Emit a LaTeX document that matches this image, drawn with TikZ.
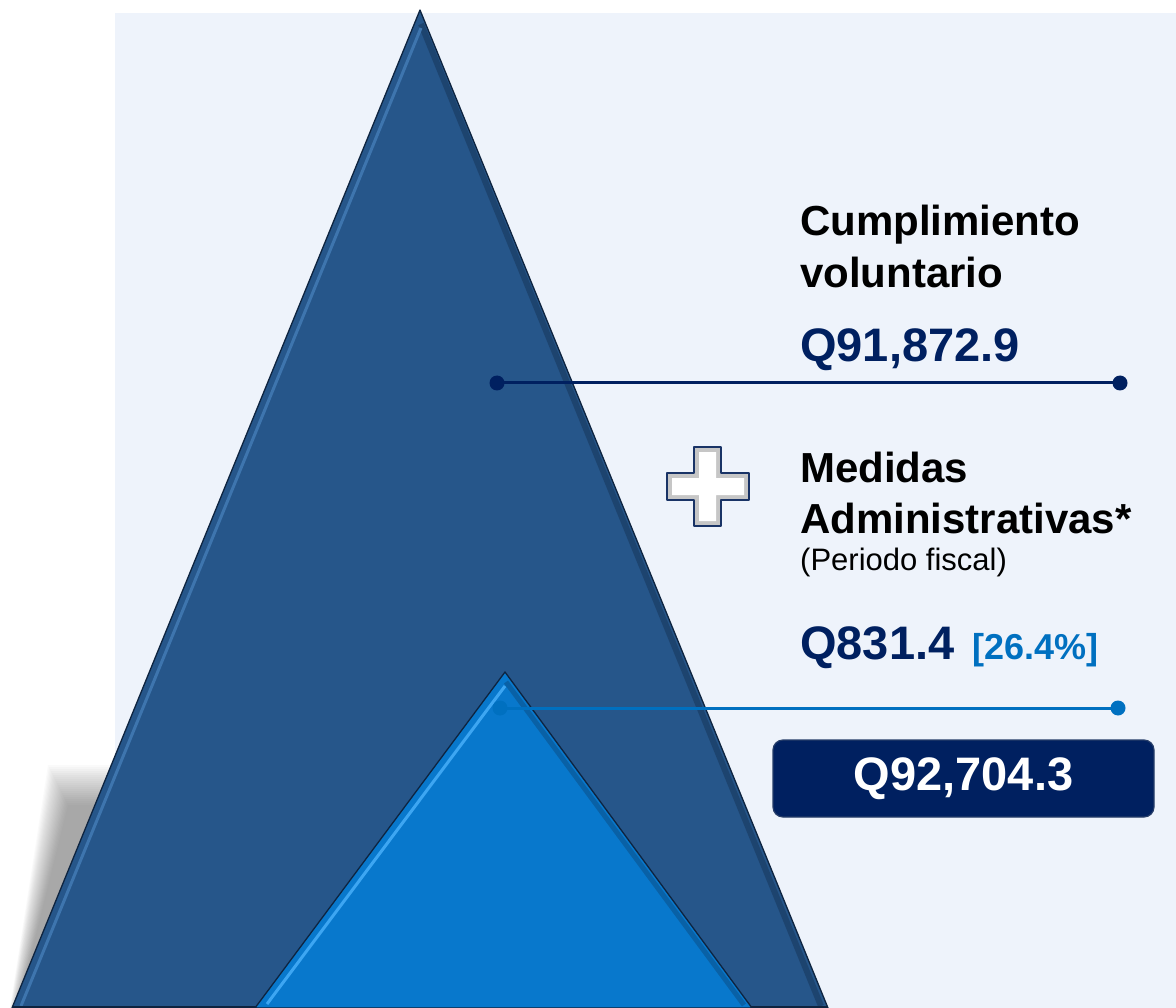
\documentclass[tikz,border=0pt]{standalone}
\usepackage{fontspec}
\setmainfont{Liberation Sans}
\definecolor{bgc}{HTML}{EEF3FB}
\definecolor{bigtri}{HTML}{26568A}
\definecolor{bigedge}{HTML}{0E2440}
\definecolor{bighi}{HTML}{3E75AE}
\definecolor{smalltri}{HTML}{0878CC}
\definecolor{smallhi}{HTML}{3DA6F2}
\definecolor{navy}{HTML}{002060}
\definecolor{midblue}{HTML}{0070C0}
\tikzset{
  lbl/.style={anchor=base west, inner sep=0pt, font=\bfseries\fontsize{42}{50}\selectfont, text=black},
  valtxt/.style={anchor=base west, inner sep=0pt, font=\bfseries\fontsize{47}{56}\selectfont, text=navy},
  dotdark/.style={fill=navy, draw=none},
  dotlight/.style={fill=midblue, draw=none},
  leader/.style={line width=3pt},
}
\begin{document}
\begin{tikzpicture}[x=1pt,y=-1pt]
\useasboundingbox (0,0) rectangle (1176,1008);
\clip (0,0) rectangle (1176,1008);
% background panel
\fill[bgc] (115,13) rectangle (1176,1008);
% soft shadow at left of big triangle
\foreach \d in {0,2,...,40}{
  \fill[black,opacity=0.018] (48+\d*0.5,765+\d) -- (115,765+\d) -- (22,1008) -- (10+\d*0.2,1008) -- cycle;
}
% big triangle
\coordinate (BA) at (420,10);
\coordinate (BL) at (12,1008);
\coordinate (BR) at (828,1008);
\fill[bigtri] (BA) -- (BL) -- (BR) -- cycle;
\draw[bigedge!70!bigtri, line width=6pt, opacity=0.5] (421,24) -- (821,1006);
\draw[bighi, line width=3pt] (421,28) -- (21,1006);
\draw[bigedge, line width=1.3pt, line join=round] (BA) -- (BL) -- (BR) -- cycle;
\draw[bigedge, line width=3pt] (12,1007) -- (828,1007);
% small triangle
\coordinate (SA) at (505,672);
\coordinate (SL) at (255,1008);
\coordinate (SR) at (752,1008);
\fill[smalltri] (SA) -- (SL) -- (SR) -- cycle;
\draw[smallhi, line width=3pt] (505,686) -- (267,1004);
\draw[bigedge!60!smalltri, line width=5pt, opacity=0.45] (506,682) -- (744,1005);
\draw[bigedge, line width=1.3pt, line join=round] (SA) -- (SL) -- (SR) -- cycle;
% leader lines
\coordinate (d1a) at (497,383);
\coordinate (d1b) at (1120,383);
\coordinate (d2a) at (500,708);
\coordinate (d2b) at (1118,708);
\draw[navy, leader] (d1a) -- (d1b);
\fill[dotdark] (d1a) circle (7.5);
\fill[dotdark] (d1b) circle (7.5);
\draw[midblue, leader] (d2a) -- (d2b);
\fill[dotlight] (d2a) circle (7.5);
\fill[dotlight] (d2b) circle (7.5);
% texts
\node[lbl] (t1) at (800,236) {Cumplimiento};
\node[lbl] (t2) at (800,288) {voluntario};
\node[valtxt] (v1) at (800,362) {Q91,872.9};
\node[lbl] (t3) at (800,482) {Medidas};
\node[lbl] (t4) at (800,533) {Administrativas*};
\node[anchor=base west, inner sep=0pt, font=\fontsize{31}{36}\selectfont] (t5) at (800,570) {(Periodo fiscal)};
\node[valtxt] (v2) at (800,659) {Q831.4};
\node[anchor=base west, inner sep=0pt, font=\bfseries\fontsize{36}{42}\selectfont, text=midblue] (v3) at (972,659) {[26.4\%]};
% total box
\node[fill=navy, draw=navy!70!gray, line width=1.2pt, rounded corners=10pt, minimum width=381pt, minimum height=77pt, inner sep=0pt, text=white, font=\bfseries\fontsize{47}{56}\selectfont] (tot) at (963.5,778.5) {Q92,704.3};
% plus sign
\fill[gray!45] (694,447) -- (721,447) -- (721,473) -- (749,473) -- (749,500) -- (721,500) -- (721,526) -- (694,526) -- (694,500) -- (667,500) -- (667,473) -- (694,473) -- cycle;
\fill[white] (699,452) -- (716,452) -- (716,478) -- (744,478) -- (744,495) -- (716,495) -- (716,521) -- (699,521) -- (699,495) -- (672,495) -- (672,478) -- (699,478) -- cycle;
\draw[navy!80!gray, line width=2pt, line join=round] (694,447) -- (721,447) -- (721,473) -- (749,473) -- (749,500) -- (721,500) -- (721,526) -- (694,526) -- (694,500) -- (667,500) -- (667,473) -- (694,473) -- cycle;
\end{tikzpicture}
\end{document}
